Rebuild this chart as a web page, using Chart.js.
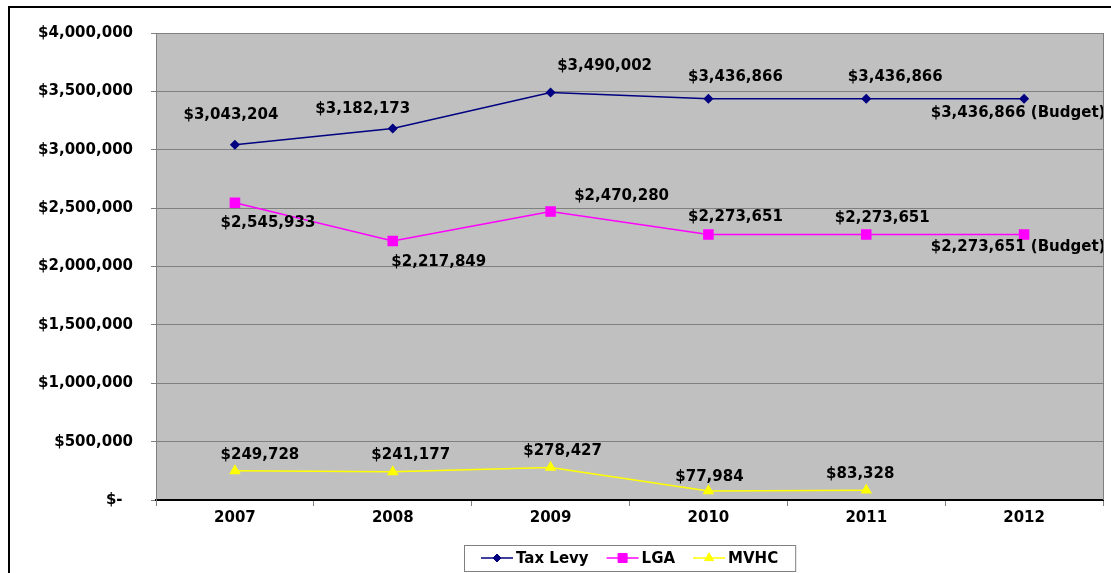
<!DOCTYPE html>
<html>
<head>
<meta charset="utf-8">
<title>Tax Levy, LGA and MVHC</title>
<script src="https://cdn.jsdelivr.net/npm/chart.js@4/dist/chart.umd.min.js"></script>
<style>
  html, body { margin: 0; padding: 0; background: #fff; }
  #wrap { width: 1111px; height: 573px; position: relative; }
</style>
</head>
<body>
<div id="wrap"><canvas id="chart" width="1111" height="573"></canvas></div>
<script>
// values per year
const years = ['2007', '2008', '2009', '2010', '2011', '2012'];
const taxLevy = [3043204, 3182173, 3490002, 3436866, 3436866, 3436866];
const lga = [2545933, 2217849, 2470280, 2273651, 2273651, 2273651];
const mvhc = [249728, 241177, 278427, 77984, 83328, null];
const budgetYear = '2012';

const yMin = 0;
const yMax = 4000000;
const yStep = 500000;

const FONT = 'bold 15px "DejaVu Sans", Verdana, sans-serif';

function money(v) {
  if (v === 0) return '$-  ';
  return '$' + v.toLocaleString('en-US');
}

// where each value label sits relative to its point [dx, dy]
const labelOffsets = [
  [[-4, -30], [-30, -19], [54, -26], [27, -22], [29, -22], [-6, 14]],
  [[33, 20], [46, 21], [71, -15], [27, -17], [16, -16], [-6, 13]],
  [[25, -16], [18, -17], [12, -16], [1, -14], [-6, -16], null]
];

const plotBackground = {
  id: 'plotBackground',
  beforeDraw(chart) {
    const { ctx, chartArea: a } = chart;
    ctx.save();
    ctx.fillStyle = '#c0c0c0';
    ctx.fillRect(a.left, a.top, a.right - a.left, a.bottom - a.top);
    ctx.restore();
  },
  afterDraw(chart) {
    const { ctx, chartArea: a } = chart;
    ctx.save();
    // right edge of the plot
    ctx.strokeStyle = '#808080';
    ctx.lineWidth = 1;
    ctx.beginPath();
    ctx.moveTo(a.right + 0.5, a.top);
    ctx.lineTo(a.right + 0.5, a.bottom);
    ctx.stroke();
    // outer frame
    ctx.strokeStyle = '#000';
    ctx.lineWidth = 2;
    ctx.strokeRect(9, 7, 1200, 700);
    ctx.restore();
  }
};

const valueLabels = {
  id: 'valueLabels',
  afterDatasetsDraw(chart) {
    const { ctx } = chart;
    ctx.save();
    ctx.font = FONT;
    ctx.fillStyle = '#000';
    ctx.textAlign = 'center';
    ctx.textBaseline = 'middle';
    chart.data.datasets.forEach((ds, di) => {
      const meta = chart.getDatasetMeta(di);
      meta.data.forEach((pt, i) => {
        const v = ds.data[i];
        if (v === null || v === undefined) return;
        const off = labelOffsets[di][i] || [0, -16];
        let text = money(v);
        if (chart.data.labels[i] === budgetYear) text += ' (Budget)';
        ctx.fillText(text, pt.x + off[0], pt.y + off[1]);
      });
    });
    ctx.restore();
  }
};

// legend box under the axis: line with marker, then name
const boxLegend = {
  id: 'boxLegend',
  afterDraw(chart) {
    const { ctx } = chart;
    const lineLen = 32, gap = 3, itemGap = 18, padX = 17;
    const boxTop = 545, boxH = 26, cy = boxTop + boxH / 2;
    ctx.save();
    ctx.font = FONT;
    const items = chart.data.datasets.map((ds, di) => ({
      ds, meta: chart.getDatasetMeta(di), w: ctx.measureText(ds.label).width
    }));
    let total = 0;
    items.forEach((it, i) => { total += lineLen + gap + it.w + (i ? itemGap : 0); });
    const boxW = total + padX * 2;
    const boxLeft = Math.round(630 - boxW / 2);
    ctx.fillStyle = '#fff';
    ctx.fillRect(boxLeft, boxTop, boxW, boxH);
    ctx.strokeStyle = '#808080';
    ctx.lineWidth = 1;
    ctx.strokeRect(boxLeft + 0.5, boxTop + 0.5, boxW, boxH);

    let x = boxLeft + padX;
    items.forEach((it, i) => {
      if (i) x += itemGap;
      const ds = it.ds;
      ctx.strokeStyle = ds.borderColor;
      ctx.lineWidth = ds.borderWidth;
      ctx.beginPath();
      ctx.moveTo(x, cy);
      ctx.lineTo(x + lineLen, cy);
      ctx.stroke();
      ctx.fillStyle = ds.pointBackgroundColor;
      ctx.strokeStyle = ds.pointBorderColor;
      ctx.lineWidth = 1;
      Chart.helpers.drawPoint(ctx, {
        pointStyle: ds.pointStyle, radius: ds.pointRadius, rotation: 0, borderWidth: 1
      }, x + lineLen / 2, cy);
      x += lineLen + gap;
      ctx.fillStyle = '#000';
      ctx.textAlign = 'left';
      ctx.textBaseline = 'middle';
      ctx.fillText(ds.label, x, cy + 1);
      x += it.w;
    });
    ctx.restore();
  }
};

new Chart(document.getElementById('chart'), {
  type: 'line',
  data: {
    labels: years,
    datasets: [
      {
        label: 'Tax Levy',
        data: taxLevy,
        borderColor: '#000080',
        borderWidth: 1.5,
        pointStyle: 'rectRot',
        pointRadius: 4,
        pointBackgroundColor: '#000080',
        pointBorderColor: '#000080',
        tension: 0
      },
      {
        label: 'LGA',
        data: lga,
        borderColor: '#ff00ff',
        borderWidth: 1.5,
        pointStyle: 'rect',
        pointRadius: 6.4,
        pointBackgroundColor: '#ff00ff',
        pointBorderColor: '#ff00ff',
        tension: 0
      },
      {
        label: 'MVHC',
        data: mvhc,
        borderColor: '#ffff00',
        borderWidth: 1.5,
        pointStyle: 'triangle',
        pointRadius: 5.2,
        pointBackgroundColor: '#ffff00',
        pointBorderColor: '#ffff00',
        tension: 0
      }
    ]
  },
  options: {
    responsive: false,
    animation: false,
    spanGaps: false,
    layout: { padding: { top: 33, right: 8, left: 0, bottom: 0 } },
    plugins: {
      legend: { display: false },
      tooltip: { enabled: false }
    },
    scales: {
      x: {
        offset: true,
        grid: { drawOnChartArea: false, offset: true, tickLength: 6, color: '#808080' },
        border: { color: '#000', width: 2 },
        ticks: { font: { family: '"DejaVu Sans", Verdana, sans-serif', size: 15, weight: 'bold' }, color: '#000', padding: 3, maxRotation: 0 },
        afterFit(scale) { scale.height = 73; }
      },
      y: {
        min: yMin,
        max: yMax,
        grid: { color: '#808080', tickLength: 5 },
        border: { color: '#808080', width: 1 },
        ticks: {
          stepSize: yStep,
          padding: 18,
          color: '#000',
          font: { family: '"DejaVu Sans", Verdana, sans-serif', size: 15, weight: 'bold' },
          callback: v => money(v)
        },
        afterFit(scale) { scale.width = 156; }
      }
    }
  },
  plugins: [plotBackground, valueLabels, boxLegend]
});
</script>
</body>
</html>
